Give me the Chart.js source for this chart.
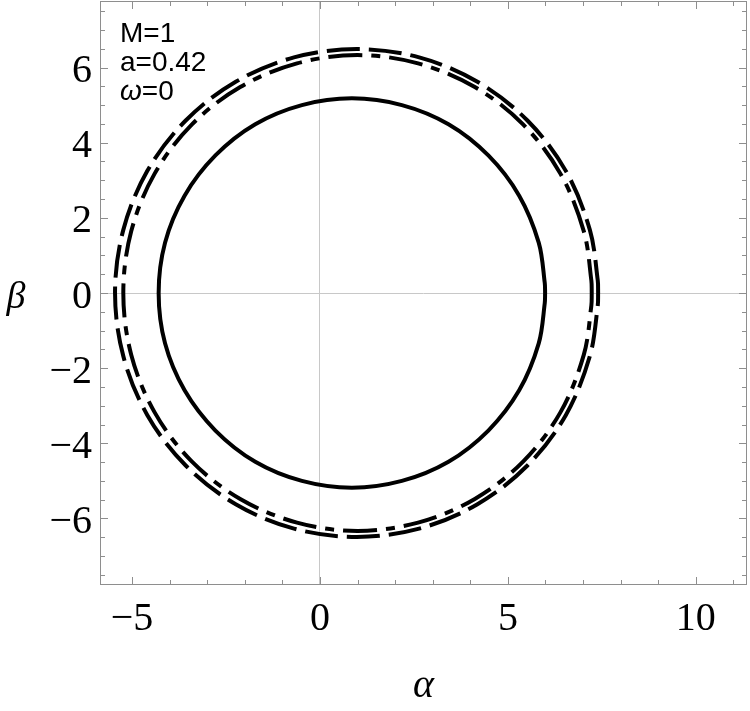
<!DOCTYPE html>
<html>
<head>
<meta charset="utf-8">
<script src="https://cdn.jsdelivr.net/npm/chart.js@4/dist/chart.umd.min.js"></script>
<style>
  html, body { margin: 0; padding: 0; background: #fff; }
  canvas { display: block; }
</style>
</head>
<body>
<canvas id="chart0" width="750" height="711"></canvas>
<script>
// shadow contours (alpha, beta)
const solid_x = [5.99, 5.98, 5.82, 5.30, 4.48, 3.42, 2.18, 0.85, -0.48, -1.72, -2.78, -3.60, -4.12, -4.29, -4.12, -3.60, -2.78, -1.72, -0.48, 0.85, 2.18, 3.42, 4.48, 5.30, 5.82, 5.98, 5.99];
const solid_y = [0, 0.27, 1.34, 2.59, 3.66, 4.49, 5.00, 5.18, 5.00, 4.49, 3.66, 2.59, 1.34, 0, -1.34, -2.59, -3.66, -4.49, -5.00, -5.18, -5.00, -4.49, -3.66, -2.59, -1.34, -0.27, 0];

const dashed_x = [7.40, 7.39, 7.18, 6.54, 5.52, 4.19, 2.64, 0.98, -0.69, -2.24, -3.57, -4.59, -5.23, -5.45, -5.23, -4.59, -3.57, -2.24, -0.69, 0.98, 2.64, 4.19, 5.52, 6.54, 7.18, 7.39, 7.40];
const dashed_y = [0, 0.34, 1.68, 3.25, 4.59, 5.62, 6.27, 6.49, 6.27, 5.62, 4.59, 3.25, 1.68, 0, -1.68, -3.25, -4.59, -5.62, -6.27, -6.49, -6.27, -5.62, -4.59, -3.25, -1.68, -0.34, 0];

const dotdash_x = [7.23, 7.22, 7.02, 6.40, 5.41, 4.12, 2.61, 1.00, -0.61, -2.12, -3.41, -4.40, -5.02, -5.23, -5.02, -4.40, -3.41, -2.12, -0.61, 1.00, 2.61, 4.12, 5.41, 6.40, 7.02, 7.22, 7.23];
const dotdash_y = [0, 0.33, 1.64, 3.17, 4.48, 5.48, 6.11, 6.33, 6.11, 5.48, 4.48, 3.17, 1.64, 0, -1.64, -3.17, -4.48, -5.48, -6.11, -6.33, -6.11, -5.48, -4.48, -3.17, -1.64, -0.33, 0];

const xTicks = [-5, 0, 5, 10];
const yTicks = [-6, -4, -2, 0, 2, 4, 6];
const xRange = [-5.85, 11.36];
const yRange = [-7.77, 7.77];

function pts(xs, ys) {
  return xs.map((x, i) => ({ x: x, y: ys[i] }));
}
function fmt(v) {
  return v < 0 ? "\u2212" + Math.abs(v) : String(v);
}

// frame with inward ticks, axis symbols and the parameter note
const framePlugin = {
  id: "frame",
  afterDraw(chart) {
    const ctx = chart.ctx;
    const a = chart.chartArea;
    const xs = chart.scales.x, ys = chart.scales.y;
    ctx.save();
    ctx.strokeStyle = "#8e8e8e";
    ctx.lineWidth = 1;
    ctx.beginPath();
    for (let v = -5; v <= 11; v += 1) {
      const px = Math.round(xs.getPixelForValue(v)) + 0.5;
      const len = v % 5 === 0 ? 8 : 5;
      ctx.moveTo(px, a.bottom); ctx.lineTo(px, a.bottom - len);
      ctx.moveTo(px, a.top); ctx.lineTo(px, a.top + len);
    }
    for (let v = -7.5; v <= 7.5; v += 0.5) {
      const py = Math.round(ys.getPixelForValue(v)) + 0.5;
      const len = v % 2 === 0 ? 8 : 5;
      ctx.moveTo(a.left, py); ctx.lineTo(a.left + len, py);
      ctx.moveTo(a.right, py); ctx.lineTo(a.right - len, py);
    }
    ctx.stroke();
    ctx.strokeRect(a.left + 0.5, a.top + 0.5, a.right - a.left - 1, a.bottom - a.top - 1);

    ctx.fillStyle = "#000";
    ctx.textAlign = "center";
    ctx.textBaseline = "alphabetic";
    ctx.font = 'italic 40px "Liberation Serif"';
    ctx.fillText("\u03b1", (a.left + a.right) / 2, 697);
    ctx.font = 'italic 38px "Liberation Serif"';
    ctx.fillText("\u03b2", 16, 308);

    ctx.textAlign = "left";
    ctx.font = '28px "Liberation Sans"';
    ctx.fillText("M=1", 120, 42);
    ctx.fillText("a=0.42", 120, 71);
    ctx.font = 'italic 28px "Liberation Sans"';
    ctx.fillText("\u03c9", 120, 100);
    const w = ctx.measureText("\u03c9").width;
    ctx.font = '28px "Liberation Sans"';
    ctx.fillText("=0", 120 + w, 100);
    ctx.restore();
  }
};

const zeroGrid = (c) => (c.tick && c.tick.value === 0 ? "#c8c8c8" : "rgba(0,0,0,0)");

new Chart(document.getElementById("chart0").getContext("2d"), {
  type: "scatter",
  data: {
    datasets: [
      {
        label: "solid",
        data: pts(solid_x, solid_y),
        showLine: true, borderColor: "#000", borderWidth: 4,
        pointRadius: 0, tension: 0.34, borderCapStyle: "butt", fill: false
      },
      {
        label: "dashed",
        data: pts(dashed_x, dashed_y),
        showLine: true, borderColor: "#000", borderWidth: 4, borderDash: [33, 9],
        pointRadius: 0, tension: 0.34, borderCapStyle: "butt", fill: false
      },
      {
        label: "dot-dashed",
        data: pts(dotdash_x, dotdash_y),
        showLine: true, borderColor: "#000", borderWidth: 4, borderDash: [34, 9, 9, 9],
        pointRadius: 0, tension: 0.34, borderCapStyle: "butt", fill: false
      }
    ]
  },
  options: {
    responsive: false,
    animation: false,
    layout: { padding: { top: 1, right: 3, left: 0, bottom: 0 } },
    plugins: { legend: { display: false }, tooltip: { enabled: false } },
    scales: {
      x: {
        type: "linear",
        min: xRange[0], max: xRange[1],
        afterBuildTicks: (s) => { s.ticks = xTicks.map((v) => ({ value: v })); },
        afterFit: (s) => { s.height = 126; s.paddingLeft = 0; s.paddingRight = 0; },
        ticks: {
          callback: (v) => fmt(v),
          font: { family: "Liberation Serif", size: 40 },
          color: "#000", padding: 10, maxRotation: 0, autoSkip: false
        },
        grid: { color: zeroGrid, drawTicks: false, lineWidth: 1 },
        border: { display: false }
      },
      y: {
        type: "linear",
        min: yRange[0], max: yRange[1],
        afterBuildTicks: (s) => { s.ticks = yTicks.map((v) => ({ value: v })); },
        afterFit: (s) => { s.width = 100; s.paddingTop = 0; s.paddingBottom = 0; },
        ticks: {
          callback: (v) => fmt(v),
          font: { family: "Liberation Serif", size: 40 },
          color: "#000", padding: 8, autoSkip: false, labelOffset: 4
        },
        grid: { color: zeroGrid, drawTicks: false, lineWidth: 1 },
        border: { display: false }
      }
    }
  },
  plugins: [framePlugin]
});
</script>
</body>
</html>
